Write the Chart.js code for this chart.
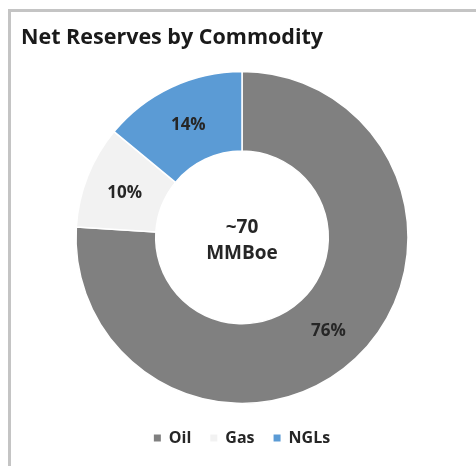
<!DOCTYPE html>
<html>
<head>
<meta charset="utf-8">
<script src="https://cdn.jsdelivr.net/npm/chart.js@4.4.1/dist/chart.umd.min.js"></script>
<style>
  html, body { margin: 0; padding: 0; background: #fff; overflow: hidden; }
  #frame {
    position: absolute; left: 8px; top: 9px; width: 500px; height: 500px;
    border: 3px solid #c4c4c4; box-sizing: border-box;
  }
  #wrap { position: absolute; left: 0; top: 0; width: 476px; height: 466px; }
</style>
</head>
<body>
<div id="frame"></div>
<div id="wrap"><canvas id="reservesChart"></canvas></div>
<script>
// Net reserves split by commodity (percent of total)
const commodities = ['Oil', 'Gas', 'NGLs'];
const shares = [76, 10, 14];
const sliceColors = ['#808080', '#f2f2f2', '#5b9bd5'];
const centerLines = ['~70', 'MMBoe'];

const FONT = '"Open Sans", sans-serif';
const TEXT = '#262626';

// percentage labels on each slice + total in the hole
const sliceLabels = {
    id: 'sliceLabels',
    afterDatasetsDraw(chart) {
        const ctx = chart.ctx;
        const meta = chart.getDatasetMeta(0);
        ctx.save();
        ctx.fillStyle = TEXT;
        ctx.textAlign = 'center';
        ctx.textBaseline = 'middle';
        ctx.font = 'bold 17px ' + FONT;
        meta.data.forEach((arc, i) => {
            const p = arc.tooltipPosition();
            ctx.fillText(shares[i] + '%', p.x, p.y + 2);
        });
        const c = meta.data[0];
        ctx.font = 'bold 19px ' + FONT;
        ctx.fillText(centerLines[0], c.x, c.y - 10);
        ctx.fillText(centerLines[1], c.x, c.y + 16);
        ctx.restore();
    }
};

const chart = new Chart(document.getElementById('reservesChart'), {
    type: 'doughnut',
    data: {
        labels: commodities,
        datasets: [{
            data: shares,
            backgroundColor: sliceColors,
            borderColor: '#ffffff',
            borderWidth: 1.5,
            hoverOffset: 0
        }]
    },
    options: {
        responsive: true,
        maintainAspectRatio: false,
        animation: false,
        cutout: '52%',
        radius: 166,
        layout: { padding: { left: 21, right: 13, top: 0, bottom: 10 } },
        plugins: {
            title: {
                display: true,
                text: 'Net Reserves by Commodity',
                align: 'start',
                color: '#1a1a1a',
                font: { family: FONT, size: 21.5, weight: 'bold' },
                padding: { top: 25, bottom: 13 }
            },
            legend: {
                position: 'bottom',
                labels: {
                    color: TEXT,
                    font: { family: FONT, size: 16, weight: 'bold' },
                    boxWidth: 7,
                    boxHeight: 7,
                    padding: 19,
                    generateLabels(ch) {
                        return Chart.overrides.doughnut.plugins.legend.labels.generateLabels(ch)
                            .map(item => Object.assign(item, { lineWidth: 0, strokeStyle: 'transparent' }));
                    }
                }
            },
            tooltip: { enabled: false }
        }
    },
    plugins: [sliceLabels]
});
</script>
</body>
</html>
